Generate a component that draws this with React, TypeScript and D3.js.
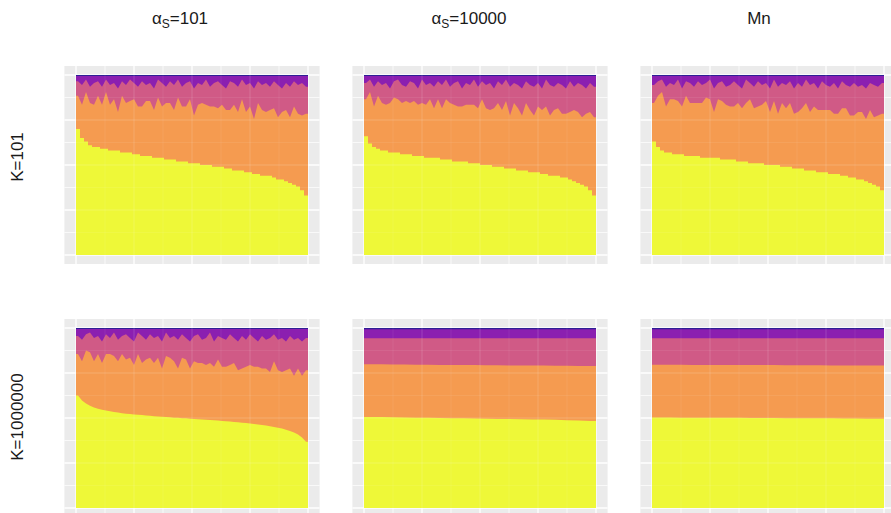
import React, { useRef, useEffect } from 'react';
import * as d3 from 'd3';

// facet labels
const colTitles = ['101', '10000', 'Mn'];
const rowTitles = ['K=101', 'K=1000000'];

// ancestry layers, bottom to top (plasma palette seen through alpha ~0.9)
const layerKeys = ['yellow', 'orange', 'pink', 'purple', 'blue'];
const layerColors = ['#EEF838', '#F59B50', '#D05A86', '#8B1FB0', '#2E1F95'];

// K=101, alpha_S=101
const yellowK101A101 = [
  0.70, 0.65, 0.63, 0.61, 0.60, 0.60, 0.59, 0.59, 0.58, 0.58,
  0.58, 0.57, 0.57, 0.57, 0.56, 0.56, 0.55, 0.55, 0.55, 0.54,
  0.54, 0.54, 0.53, 0.53, 0.53, 0.52, 0.52, 0.52, 0.51, 0.51,
  0.51, 0.50, 0.50, 0.50, 0.49, 0.49, 0.49, 0.48, 0.48, 0.47,
  0.47, 0.47, 0.46, 0.46, 0.45, 0.45, 0.44, 0.44, 0.44, 0.43,
  0.42, 0.42, 0.41, 0.40, 0.39, 0.38, 0.36, 0.33];
const pinkK101A101 = [
  0.08, 0.11, 0.07, 0.09, 0.12, 0.08, 0.10, 0.07, 0.11, 0.09,
  0.13, 0.08, 0.10, 0.12, 0.09, 0.11, 0.14, 0.09, 0.10, 0.12,
  0.10, 0.13, 0.09, 0.12, 0.14, 0.10, 0.11, 0.13, 0.10, 0.15,
  0.12, 0.10, 0.14, 0.11, 0.13, 0.15, 0.11, 0.12, 0.16, 0.12,
  0.14, 0.11, 0.15, 0.13, 0.17, 0.12, 0.14, 0.16, 0.13, 0.15,
  0.18, 0.13, 0.15, 0.17, 0.14, 0.16, 0.18, 0.15];
const purpleK101A101 = [
  0.03, 0.05, 0.02, 0.06, 0.04, 0.03, 0.06, 0.02, 0.05, 0.04,
  0.07, 0.03, 0.05, 0.02, 0.04, 0.06, 0.03, 0.05, 0.04, 0.07,
  0.02, 0.04, 0.06, 0.03, 0.05, 0.02, 0.06, 0.04, 0.03, 0.07,
  0.04, 0.05, 0.02, 0.06, 0.04, 0.03, 0.05, 0.07, 0.03, 0.04,
  0.06, 0.02, 0.05, 0.04, 0.07, 0.03, 0.05, 0.04, 0.06, 0.03,
  0.05, 0.07, 0.04, 0.06, 0.03, 0.05, 0.04, 0.06];

// K=101, alpha_S=10000
const yellowK101A10000 = [
  0.66, 0.62, 0.60, 0.59, 0.58, 0.58, 0.57, 0.57, 0.57, 0.56,
  0.56, 0.56, 0.55, 0.55, 0.55, 0.54, 0.54, 0.54, 0.54, 0.53,
  0.53, 0.53, 0.52, 0.52, 0.52, 0.52, 0.51, 0.51, 0.51, 0.50,
  0.50, 0.50, 0.49, 0.49, 0.49, 0.48, 0.48, 0.48, 0.47, 0.47,
  0.47, 0.46, 0.46, 0.46, 0.45, 0.45, 0.44, 0.44, 0.44, 0.43,
  0.43, 0.42, 0.41, 0.40, 0.39, 0.38, 0.36, 0.33];
const pinkK101A10000 = [
  0.09, 0.07, 0.11, 0.08, 0.10, 0.12, 0.08, 0.09, 0.11, 0.10,
  0.08, 0.12, 0.10, 0.09, 0.13, 0.11, 0.09, 0.12, 0.10, 0.13,
  0.11, 0.09, 0.12, 0.14, 0.10, 0.12, 0.11, 0.14, 0.12, 0.10,
  0.13, 0.15, 0.11, 0.12, 0.14, 0.12, 0.16, 0.11, 0.13, 0.15,
  0.12, 0.14, 0.16, 0.13, 0.12, 0.15, 0.17, 0.13, 0.14, 0.16,
  0.14, 0.17, 0.13, 0.16, 0.18, 0.14, 0.16, 0.17];
const purpleK101A10000 = [
  0.04, 0.02, 0.06, 0.03, 0.05, 0.04, 0.07, 0.03, 0.02, 0.05,
  0.06, 0.03, 0.04, 0.07, 0.02, 0.05, 0.04, 0.06, 0.03, 0.05,
  0.02, 0.06, 0.04, 0.03, 0.07, 0.04, 0.05, 0.02, 0.06, 0.03,
  0.05, 0.04, 0.07, 0.03, 0.05, 0.02, 0.06, 0.04, 0.05, 0.07,
  0.03, 0.05, 0.06, 0.04, 0.07, 0.02, 0.05, 0.06, 0.04, 0.05,
  0.07, 0.03, 0.06, 0.04, 0.05, 0.07, 0.04, 0.06];

// K=101, Mn
const yellowK101Mn = [
  0.63, 0.60, 0.58, 0.57, 0.57, 0.56, 0.56, 0.56, 0.55, 0.55,
  0.55, 0.55, 0.54, 0.54, 0.54, 0.54, 0.54, 0.53, 0.53, 0.53,
  0.53, 0.52, 0.52, 0.52, 0.51, 0.51, 0.51, 0.51, 0.50, 0.50,
  0.50, 0.50, 0.49, 0.49, 0.49, 0.48, 0.48, 0.48, 0.47, 0.47,
  0.47, 0.46, 0.46, 0.46, 0.45, 0.45, 0.45, 0.44, 0.44, 0.43,
  0.43, 0.42, 0.42, 0.41, 0.40, 0.39, 0.38, 0.36];
const pinkK101Mn = [
  0.10, 0.08, 0.07, 0.11, 0.09, 0.08, 0.12, 0.10, 0.08, 0.11,
  0.09, 0.12, 0.10, 0.08, 0.11, 0.13, 0.09, 0.11, 0.10, 0.12,
  0.14, 0.10, 0.11, 0.13, 0.09, 0.12, 0.14, 0.11, 0.10, 0.13,
  0.12, 0.15, 0.11, 0.13, 0.12, 0.14, 0.16, 0.12, 0.13, 0.15,
  0.13, 0.12, 0.16, 0.14, 0.13, 0.17, 0.14, 0.15, 0.13, 0.16,
  0.18, 0.14, 0.15, 0.17, 0.15, 0.18, 0.16, 0.17];
const purpleK101Mn = [
  0.05, 0.03, 0.02, 0.06, 0.04, 0.05, 0.02, 0.07, 0.03, 0.04,
  0.06, 0.03, 0.05, 0.04, 0.02, 0.07, 0.04, 0.03, 0.06, 0.05,
  0.03, 0.05, 0.07, 0.02, 0.04, 0.06, 0.03, 0.05, 0.04, 0.07,
  0.02, 0.06, 0.04, 0.05, 0.03, 0.07, 0.04, 0.06, 0.02, 0.05,
  0.04, 0.07, 0.03, 0.05, 0.06, 0.04, 0.07, 0.03, 0.05, 0.06,
  0.04, 0.06, 0.05, 0.07, 0.04, 0.05, 0.06, 0.04];

// K=1000000, alpha_S=101
const yellowK1e6A101 = [
  0.625, 0.597, 0.580, 0.568, 0.559, 0.552, 0.546, 0.541, 0.537, 0.533,
  0.530, 0.527, 0.524, 0.522, 0.520, 0.518, 0.516, 0.514, 0.512, 0.510,
  0.508, 0.507, 0.505, 0.504, 0.502, 0.501, 0.499, 0.498, 0.496, 0.495,
  0.493, 0.492, 0.490, 0.489, 0.487, 0.486, 0.484, 0.482, 0.480, 0.478,
  0.476, 0.474, 0.472, 0.470, 0.467, 0.464, 0.461, 0.458, 0.454, 0.450,
  0.446, 0.441, 0.435, 0.428, 0.419, 0.408, 0.392, 0.368];
const pinkK1e6A101 = [
  0.10, 0.12, 0.09, 0.11, 0.13, 0.10, 0.12, 0.11, 0.09, 0.13,
  0.12, 0.10, 0.14, 0.11, 0.13, 0.12, 0.15, 0.11, 0.13, 0.14,
  0.12, 0.15, 0.13, 0.11, 0.14, 0.16, 0.13, 0.12, 0.15, 0.14,
  0.16, 0.13, 0.15, 0.17, 0.14, 0.13, 0.16, 0.15, 0.17, 0.14,
  0.16, 0.18, 0.15, 0.17, 0.16, 0.14, 0.18, 0.16, 0.19, 0.15,
  0.17, 0.19, 0.16, 0.18, 0.20, 0.17, 0.19, 0.18];
const purpleK1e6A101 = [
  0.04, 0.06, 0.03, 0.02, 0.05, 0.04, 0.07, 0.03, 0.05, 0.02,
  0.06, 0.04, 0.03, 0.05, 0.07, 0.02, 0.04, 0.06, 0.03, 0.05,
  0.04, 0.07, 0.02, 0.05, 0.04, 0.06, 0.03, 0.05, 0.07, 0.04,
  0.03, 0.06, 0.05, 0.02, 0.07, 0.04, 0.05, 0.06, 0.03, 0.05,
  0.07, 0.04, 0.06, 0.03, 0.05, 0.07, 0.04, 0.06, 0.05, 0.03,
  0.06, 0.05, 0.07, 0.04, 0.06, 0.05, 0.07, 0.05];

// K=1000000, alpha_S=10000
const yellowK1e6A10000 = [
  0.506, 0.505, 0.504, 0.503, 0.502, 0.501, 0.500, 0.499, 0.498, 0.497,
  0.496, 0.495, 0.494, 0.493, 0.492, 0.491, 0.490, 0.488, 0.486, 0.483];
const pinkK1e6A10000 = [
  0.145, 0.145, 0.146, 0.146, 0.147, 0.147, 0.148, 0.148, 0.149, 0.149,
  0.150, 0.150, 0.151, 0.151, 0.152, 0.152, 0.153, 0.153, 0.154, 0.154];
const purpleK1e6A10000 = [
  0.050, 0.050, 0.050, 0.050, 0.050, 0.050, 0.050, 0.050, 0.050, 0.050,
  0.050, 0.050, 0.050, 0.050, 0.050, 0.050, 0.050, 0.050, 0.050, 0.050];

// K=1000000, Mn
const yellowK1e6Mn = [
  0.503, 0.503, 0.502, 0.502, 0.502, 0.501, 0.501, 0.501, 0.500, 0.500,
  0.500, 0.499, 0.499, 0.499, 0.498, 0.498, 0.497, 0.497, 0.496, 0.496];
const pinkK1e6Mn = [
  0.147, 0.147, 0.147, 0.148, 0.148, 0.148, 0.148, 0.149, 0.149, 0.149,
  0.149, 0.150, 0.150, 0.150, 0.150, 0.151, 0.151, 0.151, 0.152, 0.152];
const purpleK1e6Mn = [
  0.050, 0.050, 0.050, 0.050, 0.050, 0.050, 0.050, 0.050, 0.050, 0.050,
  0.050, 0.050, 0.050, 0.050, 0.050, 0.050, 0.050, 0.050, 0.050, 0.050];

// dark-blue share per panel (row-major)
const blueShare = [0.005, 0.005, 0.005, 0.005, 0.007, 0.007];

const panels = [
  { row: 0, col: 0, yellow: yellowK101A101, pink: pinkK101A101, purple: purpleK101A101, stepped: true },
  { row: 0, col: 1, yellow: yellowK101A10000, pink: pinkK101A10000, purple: purpleK101A10000, stepped: true },
  { row: 0, col: 2, yellow: yellowK101Mn, pink: pinkK101Mn, purple: purpleK101Mn, stepped: true },
  { row: 1, col: 0, yellow: yellowK1e6A101, pink: pinkK1e6A101, purple: purpleK1e6A101, stepped: false },
  { row: 1, col: 1, yellow: yellowK1e6A10000, pink: pinkK1e6A10000, purple: purpleK1e6A10000, stepped: false },
  { row: 1, col: 2, yellow: yellowK1e6Mn, pink: pinkK1e6Mn, purple: purpleK1e6Mn, stepped: false },
];

const W = 891;
const H = 513;
// data region of each facet (pixel-aligned); grey panel adds 5% expansion
const dataLeft = [76, 364, 652];
const dataTop = [75, 328];
const dataW = 232;
const dataH = 180;
const titleX = [180, 469, 759];
const rowLabelY = [157, 417];
const font = '"Liberation Sans", Arial, Helvetica, sans-serif';

export default function App() {
  const svgRef = useRef<SVGSVGElement>(null);

  useEffect(() => {
    const svg = d3.select(svgRef.current);
    svg.selectAll('*').remove();

    const majorBreaks = [0, 0.25, 0.5, 0.75, 1];
    const minorBreaks = [0.125, 0.375, 0.625, 0.875];

    panels.forEach((p, pi) => {
      const x = d3.scaleLinear().domain([0, 1]).range([dataLeft[p.col], dataLeft[p.col] + dataW]);
      const y = d3.scaleLinear().domain([0, 1]).range([dataTop[p.row] + dataH, dataTop[p.row]]);
      const g = svg.append('g');

      const x0 = x(-0.05), x1 = x(1.05), y0 = y(-0.05), y1 = y(1.05);
      g.append('rect')
        .attr('x', x0).attr('y', y1)
        .attr('width', x1 - x0).attr('height', y0 - y1)
        .attr('fill', '#EBEBEB');

      const grid = (breaks: number[], width: number, opacity: number, xa: number, xb: number, ya: number, yb: number) => {
        g.selectAll(null).data(breaks).enter().append('line')
          .attr('x1', d => x(d)).attr('x2', d => x(d))
          .attr('y1', ya).attr('y2', yb)
          .attr('stroke', '#fff').attr('stroke-width', width).attr('stroke-opacity', opacity);
        g.selectAll(null).data(breaks).enter().append('line')
          .attr('y1', d => y(d)).attr('y2', d => y(d))
          .attr('x1', xa).attr('x2', xb)
          .attr('stroke', '#fff').attr('stroke-width', width).attr('stroke-opacity', opacity);
      };
      grid(minorBreaks, 0.7, 1, x0, x1, y1, y0);
      grid(majorBreaks, 1.3, 1, x0, x1, y1, y0);

      // one row per individual, centred in its slot, padded at both ends
      const n = p.yellow.length;
      const blue = blueShare[pi];
      const rows: any[] = p.yellow.map((v, i) => ({
        pos: (i + 0.5) / n,
        yellow: v,
        pink: p.pink[i],
        purple: p.purple[i],
        blue,
        orange: 1 - v - p.pink[i] - p.purple[i] - blue,
      }));
      rows.unshift({ ...rows[0], pos: 0 });
      rows.push({ ...rows[rows.length - 1], pos: 1 });

      const series = d3.stack().keys(layerKeys)(rows);

      // paint cumulative tops from the top layer down, each from 0
      for (let k = series.length - 1; k >= 0; k--) {
        const curve = k === 0 && p.stepped ? d3.curveStep : d3.curveLinear;
        const area = d3.area<any>()
          .x(d => x(d.data.pos))
          .y0(y(0))
          .y1(d => y(d[1]))
          .curve(curve);
        g.append('path')
          .datum(series[k] as any)
          .attr('d', area)
          .attr('fill', layerColors[k])
          .attr('stroke', 'none');
      }

      // faint grid showing through the semi-transparent bars
      grid(minorBreaks.filter(b => b > 0 && b < 1), 0.7, 0.1, x(0), x(1), y(1), y(0));
      grid(majorBreaks.filter(b => b > 0 && b < 1), 1.3, 0.12, x(0), x(1), y(1), y(0));
    });

    // column strip titles
    colTitles.forEach((t, i) => {
      const txt = svg.append('text')
        .attr('x', titleX[i]).attr('y', 24)
        .attr('text-anchor', 'middle')
        .attr('font-family', font)
        .attr('font-size', 17)
        .attr('fill', '#1a1a1a');
      if (t === 'Mn') {
        txt.text(t);
      } else {
        txt.append('tspan').text('α');
        txt.append('tspan').attr('font-size', 12).attr('dy', 4).text('S');
        txt.append('tspan').attr('dy', -4).text('=' + t);
      }
    });

    // row strip titles
    rowTitles.forEach((t, i) => {
      svg.append('text')
        .attr('transform', `translate(23, ${rowLabelY[i]}) rotate(-90)`)
        .attr('text-anchor', 'middle')
        .attr('font-family', font)
        .attr('font-size', 17)
        .attr('fill', '#1a1a1a')
        .text(t);
    });
  }, []);

  return (
    <svg
      ref={svgRef}
      width={W}
      height={H}
      style={{ position: 'absolute', left: 0, top: 0, background: '#fff', display: 'block' }}
    />
  );
}
